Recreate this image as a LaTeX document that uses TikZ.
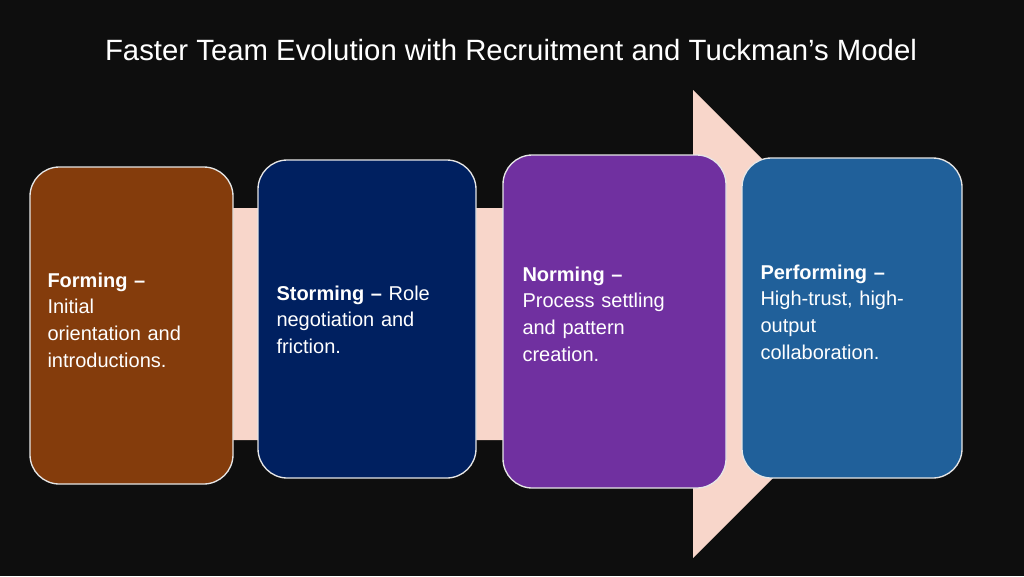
\documentclass[tikz,border=0pt]{standalone}
\usepackage{fontspec}
\setmainfont{Liberation Sans}
\definecolor{bgblack}{RGB}{14,14,14}
\definecolor{arrowpink}{RGB}{248,214,202}
\definecolor{formbrown}{RGB}{132,60,12}
\definecolor{stormnavy}{RGB}{0,32,96}
\definecolor{normpurple}{RGB}{112,48,160}
\definecolor{perfblue}{RGB}{32,96,154}
\tikzset{every picture/.style={line width=0.75pt}}
\tikzset{
  stagebox/.style={draw={rgb,255:red,230;green,230;blue,230}, line width=1pt, rounded corners=22pt},
  stagetext/.style={anchor=north west, text=white, align=left, font=\fontsize{15}{20}\selectfont, inner sep=0pt}
}
\begin{document}
\begin{tikzpicture}[x=0.75pt,y=0.75pt,yscale=-1,xscale=1]
  %background
  \fill [bgblack] (0,0) rectangle (1024,576);
  %title
  \node (title) [text=white, font=\fontsize{22}{26}\selectfont] at (511,50) {Faster Team Evolution with Recruitment and Tuckman’s Model};
  %big arrow
  \fill [arrowpink] (232,208) -- (693,208) -- (693,90) -- (927,324) -- (693,558) -- (693,440) -- (232,440) -- cycle;
  %stage boxes
  \draw [stagebox, fill=formbrown] (30,167) rectangle (233,484);
  \draw [stagebox, fill=stormnavy] (258,160) rectangle (476,478);
  \draw [stagebox, fill=normpurple] (503,155) rectangle (726,488);
  \draw [stagebox, fill=perfblue] (742,158) rectangle (962,478);
  %stage texts
  \node (forming) [stagetext, text width=175pt] at (47,272) {\textbf{Forming –}\\Initial\\orientation and\\introductions.};
  \node (storming) [stagetext, text width=175pt] at (276,285) {\textbf{Storming –} Role\\negotiation and\\friction.};
  \node (norming) [stagetext, text width=175pt] at (522,266) {\textbf{Norming –}\\Process settling\\and pattern\\creation.};
  \node (performing) [stagetext, text width=175pt] at (760,264) {\textbf{Performing –}\\High-trust, high-\\output\\collaboration.};
\end{tikzpicture}
\end{document}
